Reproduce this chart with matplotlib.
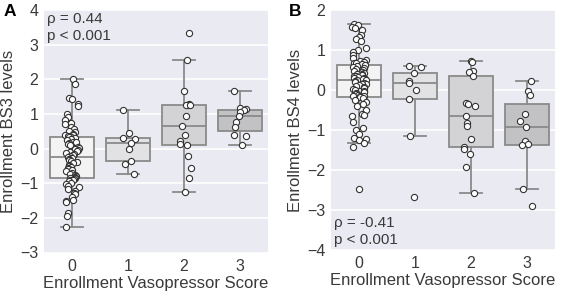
import numpy as np
import matplotlib
matplotlib.use("Agg")
import matplotlib.pyplot as plt

plt.rcParams['font.family'] = ['Liberation Sans', 'DejaVu Sans']

# Vasopressor score categories
scores = ['0', '1', '2', '3']

# Panel A: BS3 levels per vasopressor score
bs3_0 = [2.0, 1.85, 1.45, 1.43, 1.3, 1.22, 1.0, 0.92, 0.82, 0.75, 0.7, 0.63, 0.57, 0.52,
         0.47, 0.42, 0.4, 0.38, 0.36, 0.34,
         0.32, 0.3, 0.27, 0.24, 0.2, 0.18, 0.15, 0.12, 0.1, 0.05, 0.02, -0.02, -0.05,
         -0.08, -0.1, -0.13, -0.16, -0.19, -0.22, -0.24,
         -0.26, -0.28, -0.31, -0.34, -0.37, -0.4, -0.43, -0.46, -0.5, -0.53, -0.56,
         -0.6, -0.63, -0.66, -0.7, -0.72, -0.75, -0.78, -0.81, -0.84,
         -0.86, -0.88, -0.9, -0.92, -0.95, -0.98, -1.02, -1.08, -1.12, -1.18, -1.22,
         -1.28, -1.3, -1.4, -1.48, -1.52, -1.55, -1.85, -1.95, -2.25]
bs3_1 = [1.1, 0.45, 0.3, 0.28, 0.15, -0.02, -0.36, -0.45, -0.73]
bs3_2 = [3.35, 2.57, 1.65, 1.28, 1.27, 1.26, 1.25, 0.93, 0.64, 0.4, 0.22, 0.12, 0.1,
         -0.22, -0.55, -0.85, -1.24]
bs3_3 = [1.65, 1.17, 1.15, 1.1, 1.05, 0.95, 0.77, 0.62, 0.4, 0.35, 0.09]

# Panel B: BS4 levels per vasopressor score
bs4_0 = [1.65, 1.62, 1.58, 1.55, 1.5, 1.38, 1.32, 1.28, 1.22, 1.05, 1.0, 0.95, 0.88, 0.8,
         0.75, 0.72, 0.7, 0.68, 0.67, 0.66,
         0.62, 0.6, 0.58, 0.55, 0.52, 0.5, 0.48, 0.45, 0.43, 0.41, 0.4, 0.38, 0.36,
         0.34, 0.32, 0.3, 0.29, 0.28, 0.27, 0.26,
         0.24, 0.22, 0.2, 0.18, 0.16, 0.14, 0.12, 0.1, 0.08, 0.05, 0.03, 0.01, -0.02,
         -0.05, -0.08, -0.1, -0.12, -0.14, -0.15, -0.16,
         -0.18, -0.2, -0.25, -0.3, -0.35, -0.4, -0.5, -0.6, -0.62, -0.65, -0.8, -0.95,
         -1.0, -1.1, -1.2, -1.22, -1.25, -1.33, -1.42, -2.48]
bs4_1 = [0.6, 0.57, 0.42, 0.22, 0.17, 0.0, -0.22, -1.15, -2.67]
bs4_2 = [0.72, 0.7, 0.48, 0.45, 0.36, -0.32, -0.35, -0.4, -0.65, -0.83, -0.9, -1.22,
         -1.42, -1.48, -1.6, -1.93, -2.57]
bs4_3 = [0.22, -0.02, -0.12, -0.6, -0.77, -0.92, -1.27, -1.35, -1.38, -2.48, -2.9]

box_colors = ['#f3f3f4', '#e2e2e4', '#d3d3d5', '#c2c2c4']
line_color = '#8a8a8a'
text_color = '#3a3a3a'

fig = plt.figure(figsize=(5.62, 2.95), dpi=100)
W, H = 562, 295
axA = fig.add_axes([44 / W, 1 - 252.5 / H, 224 / W, 242.5 / H])
axB = fig.add_axes([331 / W, 1 - 250 / H, 224 / W, 240 / H])

rng = np.random.RandomState(3)


def draw_panel(ax, groups, ylim, ylabel):
    ax.set_facecolor('#eaeaf2')
    ax.set_axisbelow(True)
    ax.yaxis.grid(True, color='white', linewidth=1.2)
    bp = ax.boxplot(groups, positions=range(len(groups)), widths=0.8,
                    patch_artist=True, showfliers=False, capwidths=0.4,
                    medianprops=dict(color=line_color, linewidth=1.3),
                    whiskerprops=dict(color=line_color, linewidth=1.3),
                    capprops=dict(color=line_color, linewidth=1.3),
                    boxprops=dict(edgecolor=line_color, linewidth=1.3))
    for patch, c in zip(bp['boxes'], box_colors):
        patch.set_facecolor(c)
    for i, vals in enumerate(groups):
        jit = rng.uniform(-0.13, 0.13, len(vals))
        ax.scatter(i + jit, vals, s=20, facecolor='white', edgecolor='#333333',
                   linewidth=0.8, zorder=5)
    ax.set_xlim(-0.5, 3.5)
    ax.set_ylim(*ylim)
    ax.set_xticks(range(len(scores)))
    ax.set_xticklabels(scores)
    ax.set_yticks(range(ylim[0], ylim[1] + 1))
    ax.set_yticklabels([str(v).replace('-', '\u2212') for v in range(ylim[0], ylim[1] + 1)])
    ax.tick_params(length=0, labelsize=11.5, colors=text_color)
    ax.tick_params(axis='x', pad=4.5)
    ax.tick_params(axis='y', pad=4)
    for s in ax.spines.values():
        s.set_visible(False)
    ax.set_xlabel('Enrollment Vasopressor Score', fontsize=12, color=text_color, labelpad=1.5)
    ax.set_ylabel(ylabel, fontsize=12, color=text_color, labelpad=3)


draw_panel(axA, [bs3_0, bs3_1, bs3_2, bs3_3], (-3, 4), 'Enrollment BS3 levels')
draw_panel(axB, [bs4_0, bs4_1, bs4_2, bs4_3], (-4, 2), 'Enrollment BS4 levels')

axA.text(0.015, 0.99, 'ρ = 0.44\np < 0.001', transform=axA.transAxes, va='top',
         ha='left', fontsize=11, color=text_color, linespacing=1.25)
axB.text(0.015, 0.012, 'ρ = -0.41\np < 0.001', transform=axB.transAxes, va='bottom',
         ha='left', fontsize=11, color=text_color, linespacing=1.25)

fig.text(4 / W, 1 - 12 / H, 'A', fontsize=12.5, fontweight='bold', va='center')
fig.text(289 / W, 1 - 12 / H, 'B', fontsize=12.5, fontweight='bold', va='center')

fig.savefig('out.png', dpi=100)
